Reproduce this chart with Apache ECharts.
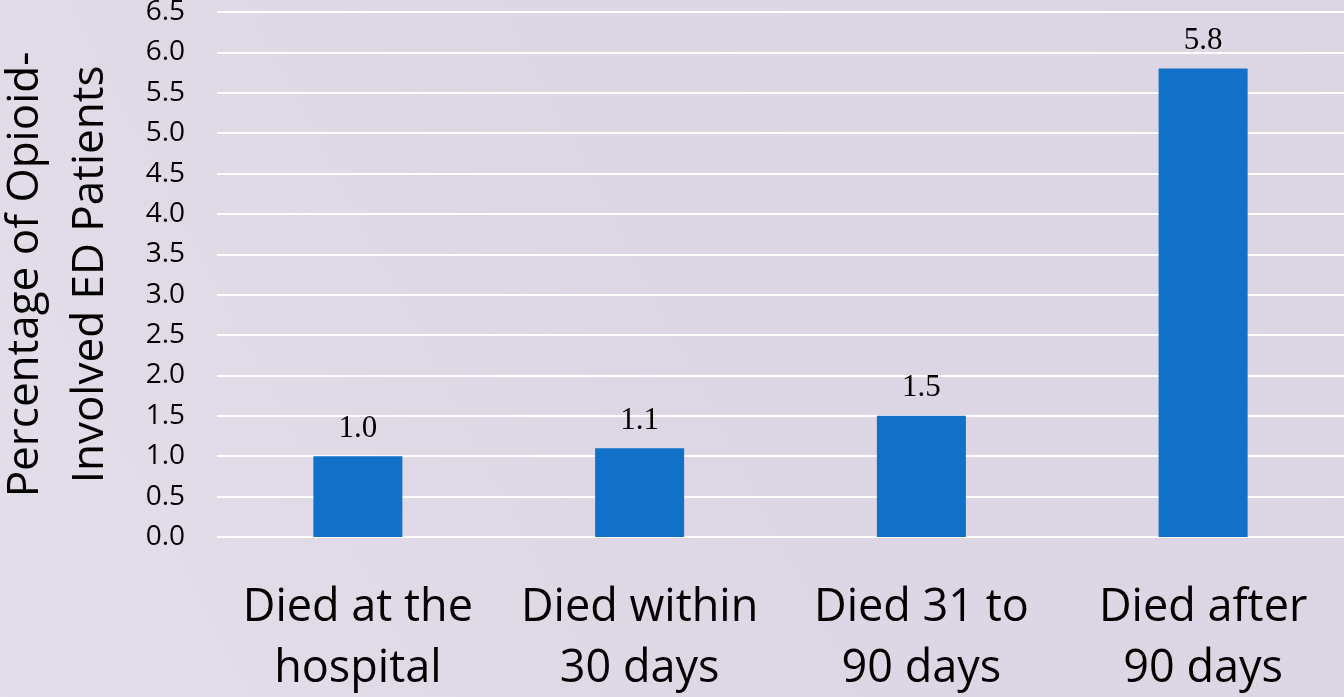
<!DOCTYPE html>
<html><head><meta charset="utf-8">
<script src="https://cdn.jsdelivr.net/npm/echarts@6/dist/echarts.min.js"></script>
<style>html,body{margin:0;padding:0;}#c{width:1344px;height:697px;}</style>
</head><body><div id="c"></div>
<script>
const categories = ['Died at the\nhospital', 'Died within\n30 days', 'Died 31 to\n90 days', 'Died after\n90 days'];
const values = [1.0, 1.1, 1.5, 5.8];
const yTitle = 'Percentage of Opioid-\nInvolved ED Patients';

const chart = echarts.init(document.getElementById('c'));
chart.setOption({
  backgroundColor: new echarts.graphic.LinearGradient(0, 1, 1, 0, [
    {offset: 0, color: '#e3dfea'},
    {offset: 0.5, color: '#ddd6e4'},
    {offset: 1, color: '#dcd5e3'}
  ]),
  animation: false,
  grid: {left: 217, right: 0, top: 12, bottom: 160, containLabel: false, outerBoundsMode: 'none'},
  xAxis: {
    type: 'category', data: categories,
    axisLine: {show: false}, axisTick: {show: false},
    axisLabel: {fontFamily: 'Open Sans', fontSize: 45, color: '#000', lineHeight: 61, margin: 41, interval: 0}
  },
  yAxis: {
    type: 'value', min: 0, max: 6.5, interval: 0.5,
    name: yTitle, nameLocation: 'middle', nameRotate: 90, nameGap: 94,
    nameTextStyle: {fontFamily: 'Open Sans', fontSize: 44, color: '#000', lineHeight: 65, align: 'center'},
    axisLabel: {fontFamily: 'Open Sans', fontSize: 28, color: '#000', margin: 32, formatter: v => v.toFixed(1)},
    splitLine: {lineStyle: {color: '#ffffff', width: 2}},
    axisLine: {show: false}, axisTick: {show: false}
  },
  series: [{
    type: 'bar', data: values, barWidth: 89,
    itemStyle: {color: '#1170c8'},
    label: {show: true, position: 'top', distance: 12, fontFamily: 'Liberation Serif', fontSize: 31, color: '#000', formatter: p => p.value.toFixed(1)}
  }]
});
</script></body></html>
